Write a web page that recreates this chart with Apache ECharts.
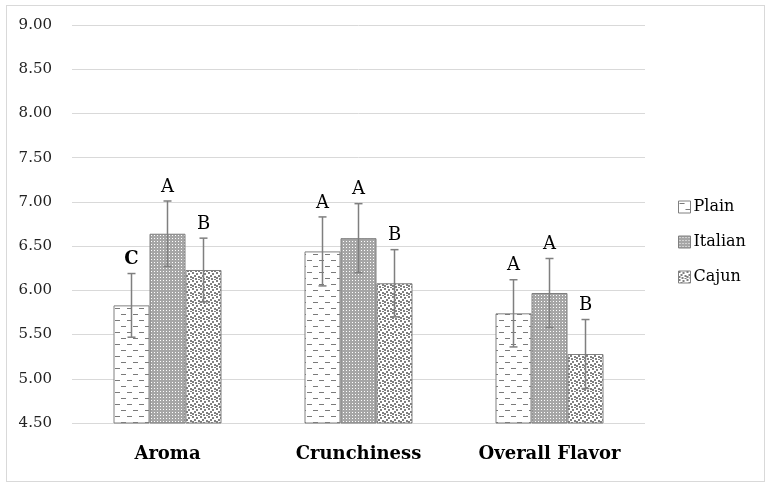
<!DOCTYPE html>
<html><head><meta charset="utf-8">
<script src="https://cdn.jsdelivr.net/npm/echarts@6/dist/echarts.min.js"></script>
<style>
html,body{margin:0;padding:0;background:#fff;}
#frame{position:absolute;left:6px;top:5px;width:757px;height:475px;border:1px solid #d9d9d9;}
#c{position:absolute;left:0;top:0;width:770px;height:486px;}
</style></head>
<body><div id="frame"></div><div id="c"></div>
<script>
const categories = ['Aroma', 'Crunchiness', 'Overall Flavor'];
const seriesNames = ['Plain', 'Italian', 'Cajun'];
const plainMean = [5.83, 6.44, 5.74];
const italianMean = [6.64, 6.59, 5.97];
const cajunMean = [6.23, 6.08, 5.28];
const plainSD = [0.36, 0.39, 0.38];
const italianSD = [0.37, 0.39, 0.39];
const cajunSD = [0.36, 0.38, 0.39];
const plainLetters = ['C', 'A', 'A'];
const italianLetters = ['A', 'A', 'A'];
const cajunLetters = ['B', 'B', 'B'];
const yTicks = {min: 4.5, max: 9, interval: 0.5};

const means = [plainMean, italianMean, cajunMean];
const sds = [plainSD, italianSD, cajunSD];
const letters = [plainLetters, italianLetters, cajunLetters];

function makePattern(kind) {
  const c = document.createElement('canvas');
  const g = c.getContext('2d');
  if (kind === 0) {
    c.width = 12; c.height = 12;
    g.fillStyle = '#fff'; g.fillRect(0,0,12,12);
    g.fillStyle = '#7a7a7a'; g.fillRect(1,2,5,1); g.fillRect(7,8,5,1);
  } else if (kind === 1) {
    c.width = 3; c.height = 3;
    g.fillStyle = '#a6a6a6'; g.fillRect(0,0,3,3);
    g.fillStyle = '#ffffff'; g.fillRect(1,1,1,1);
  } else {
    c.width = 8; c.height = 8;
    g.fillStyle = '#fff'; g.fillRect(0,0,8,8);
    g.fillStyle = '#808080';
    [[0,0],[4,1],[2,3],[6,4],[0,5],[3,6],[6,7]].forEach(p => g.fillRect(p[0],p[1],2,2));
  }
  return {image: c, repeat: 'repeat'};
}

const chart = echarts.init(document.getElementById('c'));
const serif = '"DejaVu Serif", "Liberation Serif", serif';
const barW = 36;

const series = [];
seriesNames.forEach((name, i) => {
  series.push({
    name: name, type: 'bar', barWidth: barW, barGap: '0%',
    data: means[i],
    itemStyle: {color: makePattern(i), borderColor: '#808080', borderWidth: 1},
    z: 2
  });
});
seriesNames.forEach((name, i) => {
  series.push({
    type: 'custom', name: name + ' err', z: 5, silent: true,
    data: means[i].map((m, k) => [k, m, sds[i][k]]),
    renderItem: function(params, api) {
      const k = api.value(0), m = api.value(1), sd = api.value(2);
      const off = (i - 1) * barW;
      const top = api.coord([k, m + sd]);
      const bot = api.coord([k, m - sd]);
      const x = top[0] + off;
      const st = {stroke: '#7f7f7f', lineWidth: 1.5};
      return {type: 'group', children: [
        {type: 'line', shape: {x1: x, y1: top[1], x2: x, y2: bot[1]}, style: st},
        {type: 'line', shape: {x1: x-4, y1: top[1], x2: x+4, y2: top[1]}, style: st},
        {type: 'line', shape: {x1: x-4, y1: bot[1], x2: x+4, y2: bot[1]}, style: st},
        {type: 'text', x: x, y: top[1] - 5, style: {text: letters[i][k], fontFamily: serif, fontSize: 18,
          fontWeight: letters[i][k] === 'C' ? 'bold' : 'normal',
          fill: '#000', align: 'center', verticalAlign: 'bottom'}}
      ]};
    }
  });
});

chart.setOption({
  animation: false,
  grid: {left: 72, right: 125, top: 25, bottom: 63},
  legend: {
    orient: 'vertical', left: 673, top: 194, itemWidth: 12, itemHeight: 12, itemGap: 19,
    icon: 'rect',
    data: seriesNames.map((n, i) => ({name: n, icon: 'rect', itemStyle: {color: makePattern(i), borderColor: '#808080', borderWidth: 1}})),
    textStyle: {fontFamily: serif, fontSize: 16, color: '#000', padding: [0,0,0,-2]}
  },
  xAxis: {
    type: 'category', data: categories,
    axisLine: {show: false}, axisTick: {show: false},
    axisLabel: {fontFamily: serif, fontSize: 18, fontWeight: 'bold', color: '#000', margin: 22}
  },
  yAxis: {
    type: 'value', min: yTicks.min, max: yTicks.max, interval: yTicks.interval,
    axisLine: {show: false}, axisTick: {show: false},
    axisLabel: {fontFamily: serif, fontSize: 15, color: '#222', margin: 20, formatter: v => v.toFixed(2)},
    splitLine: {lineStyle: {color: '#d9d9d9', width: 1}}
  },
  series: series
});
</script></body></html>
